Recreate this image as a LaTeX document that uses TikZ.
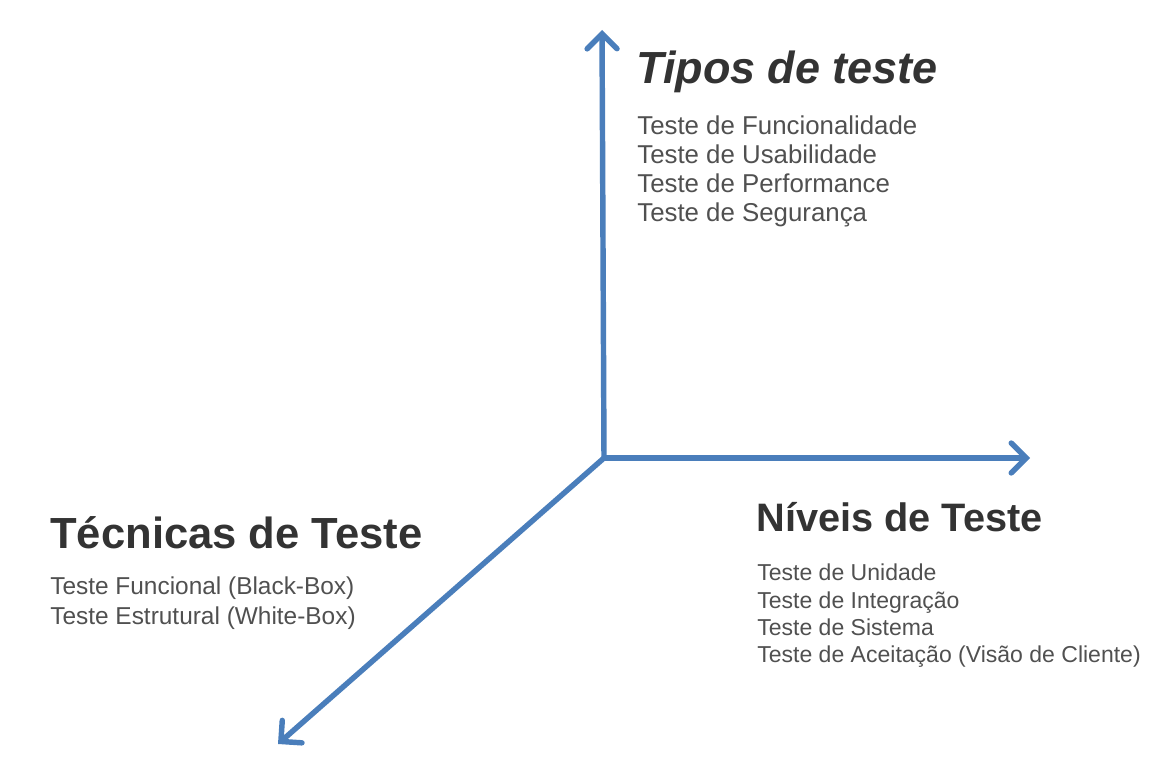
\documentclass[tikz,border=0pt]{standalone}
\usepackage{fontspec}
\setmainfont{Liberation Sans}
\usetikzlibrary{arrows.meta}
\definecolor{axisblue}{HTML}{4A7EBB}
\definecolor{titlegray}{HTML}{333333}
\definecolor{itemgray}{HTML}{505050}

\begin{document}
\begin{tikzpicture}[x=0.02cm, y=-0.02cm,
    axis/.style={line width=3.1pt, axisblue, line cap=round,
        -{Straight Barb[length=8.5pt, width=17pt, line cap=round]}},
    heading/.style={titlegray, anchor=base west, inner sep=0pt},
    entry/.style={itemgray, anchor=base west, inner sep=0pt}]
    \useasboundingbox (0,0) rectangle (1150,763);

    % Draw axes
    \coordinate (o) at (604, 458);
    \coordinate (pya) at (602, 30);
    \coordinate (pxa) at (1030, 458);
    \coordinate (nza) at (278, 744);
    \draw [axis] (o) -- (pya);
    \draw [axis] (o) -- (pxa);
    \draw [axis] (o) -- (nza);

    % Tipos de teste
    \node [heading, font=\bfseries\itshape\fontsize{25.6}{30}\selectfont] (htipos) at (636, 84) {Tipos de teste};
    \foreach \txt [count=\i] in {Teste de Funcionalidade, Teste de Usabilidade,
        Teste de Performance, Teste de Segurança}
        \node [entry, font=\fontsize{14.7}{17}\selectfont] (tipos\i) at (637, {135+29*(\i-1)}) {\txt};

    % Técnicas de teste
    \node [heading, font=\bfseries\fontsize{24.8}{29}\selectfont] (htecnicas) at (50, 548) {Técnicas de Teste};
    \foreach \txt [count=\i] in {{Teste Funcional (Black-Box)}, {Teste Estrutural (White-Box)}}
        \node [entry, font=\fontsize{13.9}{16}\selectfont] (tecnicas\i) at (50, {594+30.5*(\i-1)}) {\txt};

    % Níveis de teste
    \node [heading, font=\bfseries\fontsize{22.6}{27}\selectfont] (hniveis) at (756, 532) {Níveis de Teste};
    \foreach \txt [count=\i] in {Teste de Unidade, Teste de Integração,
        Teste de Sistema, {Teste de Aceitação (Visão de Cliente)}}
        \node [entry, font=\fontsize{13.1}{15}\selectfont] (niveis\i) at (757, {581+27*(\i-1)}) {\txt};
\end{tikzpicture}
\end{document}
